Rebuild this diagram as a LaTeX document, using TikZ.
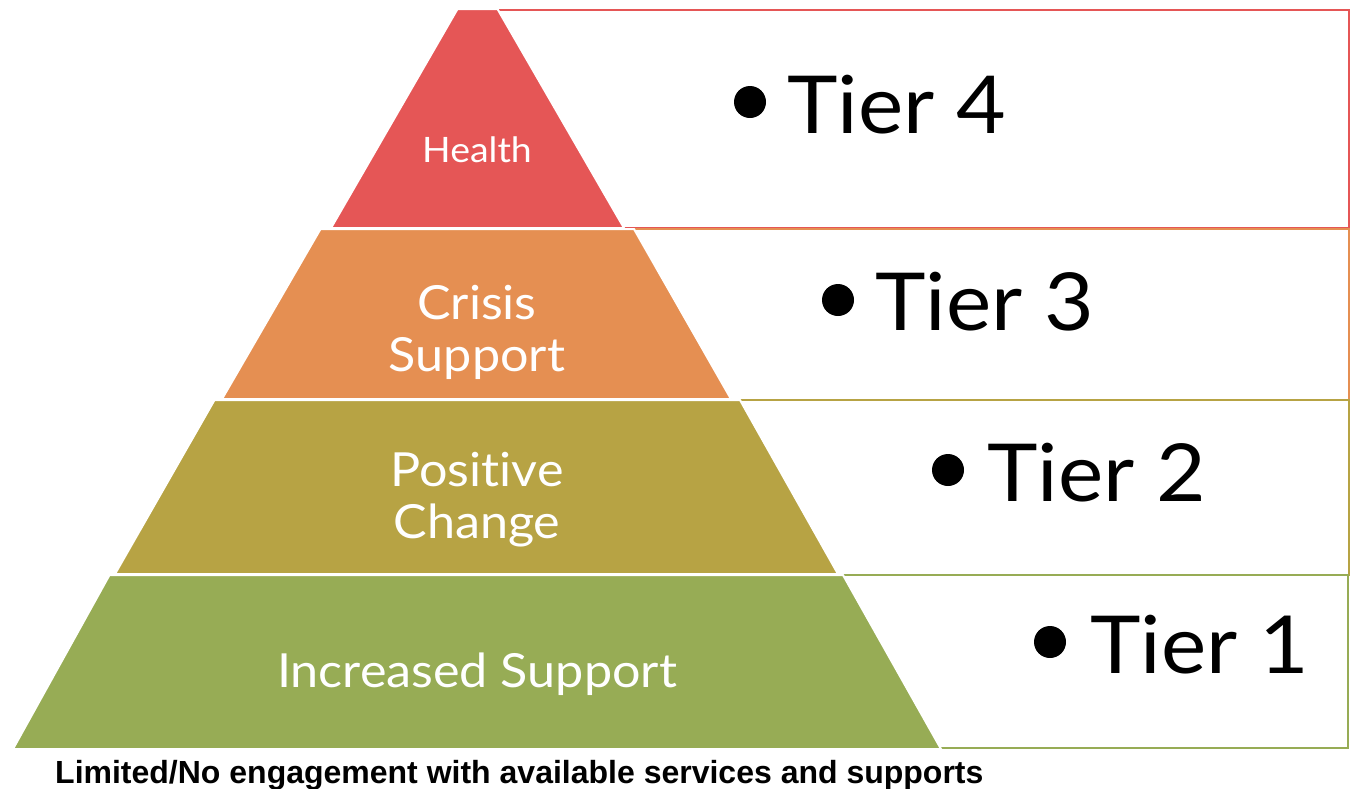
\documentclass[tikz,border=0pt]{standalone}
\usepackage{fontspec}
\setmainfont{Lato}
\newfontfamily\lvlfont{Lato}[FakeStretch=1.07,Ligatures={NoCommon}]
\newfontfamily\arialfont{Liberation Sans}
\definecolor{cRed}{HTML}{E55656}
\definecolor{cOrange}{HTML}{E58F52}
\definecolor{cOlive}{HTML}{B7A344}
\definecolor{cGreen}{HTML}{97AC55}
\begin{document}
\begin{tikzpicture}[x=1pt,y=-1pt,
  tierbox/.style={line width=2pt,fill=white},
  level/.style={fill=#1,draw=white,line width=2pt},
  lvltext/.style={text=white,align=center,font=\lvlfont\fontsize{#1}{52}\selectfont,inner sep=0pt},
  tiertext/.style={anchor=base west,inner sep=0pt,font=\lvlfont\fontsize{80}{90}\selectfont},
  dot/.style={fill=black,draw=none}]
\useasboundingbox (0,0) rectangle (1351,788);
% right boxes
\draw[tierbox,draw=cRed] (480,10) rectangle (1349,228);
\draw[tierbox,draw=cOrange] (600,229) rectangle (1349,400);
\draw[tierbox,draw=cOlive] (700,400) rectangle (1349,575);
\draw[tierbox,draw=cGreen] (800,575) rectangle (1348,748);
% pyramid levels
\filldraw[level=cRed] (457.5,9) -- (497.5,9) -- (624,228) -- (331,228) -- cycle;
\filldraw[level=cOrange] (320.5,229) -- (634,229) -- (731,399) -- (222,399) -- cycle;
\filldraw[level=cOlive] (214.5,400) -- (740,400) -- (838,574) -- (115,574) -- cycle;
\filldraw[level=cGreen] (109.5,575) -- (843,575) -- (941,749) -- (13,749) -- cycle;
% level texts
\node[lvltext=35,anchor=base] (health) at (477,162) {Health};
\node[lvltext=47] (crisis) at (477,332) {Crisis\\Support};
\node[lvltext=47] (positive) at (477,500) {Positive\\Change};
\node[lvltext=47,anchor=base] (increased) at (477,687) {Increased Support};
% tier labels
\fill[dot] (750,102) circle (16);
\node[tiertext] (t4) at (787,133) {Tier 4};
\fill[dot] (838,300) circle (16);
\node[tiertext] (t3) at (875,330) {Tier 3};
\fill[dot] (948,470) circle (16);
\node[tiertext] (t2) at (987,501) {Tier 2};
\fill[dot] (1050,642) circle (16);
\node[tiertext] (t1) at (1090,673) {Tier 1};
% bottom caption
\node[anchor=base west,inner sep=0pt,font=\arialfont\bfseries\fontsize{32}{36}\selectfont] (caption) at (55,783) {Limited/No engagement with available services and supports};
\end{tikzpicture}
\end{document}
